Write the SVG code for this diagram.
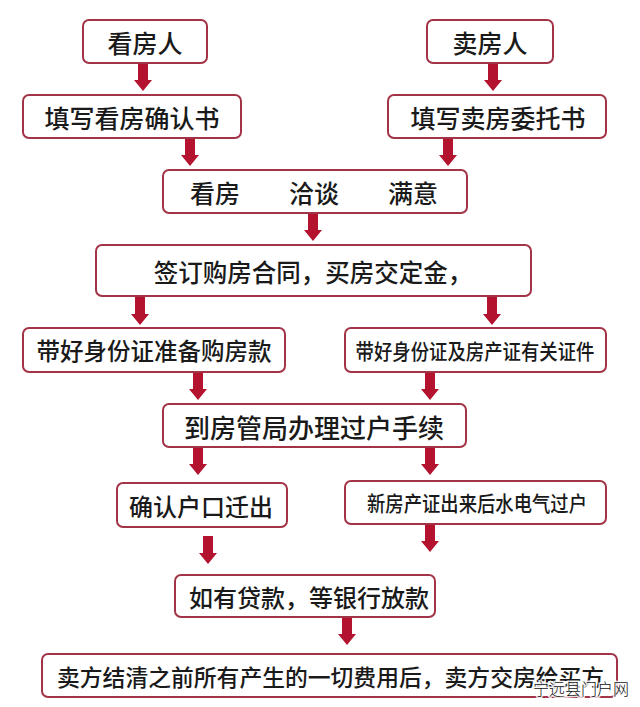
<svg xmlns="http://www.w3.org/2000/svg" width="640" height="707" viewBox="0 0 640 707">
<style>
.box{fill:#ffffff;stroke:#a33447;stroke-width:2}
.t{font-family:"Noto Sans CJK SC","Liberation Sans",sans-serif;font-weight:500;fill:#1a1a1a;text-anchor:middle;dominant-baseline:central}
.arr{fill:#b3132f}
.wm{font-family:"Noto Sans CJK SC",sans-serif;font-weight:300;fill:#111;font-size:16px;stroke:#ffffff;stroke-width:3;paint-order:stroke;stroke-opacity:0.85}
</style>
<defs>
<path id="ar" d="M-5,0 H5 V17 H9 L0,28 L-9,17 H-5 Z"/>
</defs>
<rect width="640" height="707" fill="#ffffff"/>
<g id="connectors">
<use href="#ar" class="arr" x="143" y="63"/>
<use href="#ar" class="arr" x="493" y="63"/>
<use href="#ar" class="arr" x="190" y="138"/>
<use href="#ar" class="arr" x="448" y="138"/>
<use href="#ar" class="arr" x="313" y="213"/>
<use href="#ar" class="arr" x="140" y="297"/>
<use href="#ar" class="arr" x="492" y="297"/>
<use href="#ar" class="arr" x="198" y="372"/>
<use href="#ar" class="arr" x="430" y="372"/>
<use href="#ar" class="arr" x="198" y="447"/>
<use href="#ar" class="arr" x="430" y="447"/>
<use href="#ar" class="arr" x="208" y="536"/>
<use href="#ar" class="arr" x="430" y="524"/>
<use href="#ar" class="arr" x="347" y="617"/>
</g>
<g id="n1"><rect class="box" x="83" y="20" width="124" height="43" rx="6"/><text class="t" x="145" y="42" font-size="25">看房人</text></g>
<g id="n2"><rect class="box" x="427" y="20" width="126" height="43" rx="6"/><text class="t" x="490" y="42" font-size="25">卖房人</text></g>
<g id="n3"><rect class="box" x="23" y="95" width="218" height="43" rx="6"/><text class="t" x="132" y="117" font-size="25">填写看房确认书</text></g>
<g id="n4"><rect class="box" x="388" y="95" width="218" height="43" rx="6"/><text class="t" x="498" y="117" font-size="25">填写卖房委托书</text></g>
<g id="n5"><rect class="box" x="163" y="170" width="304" height="43" rx="6"/><text class="t" x="215" y="192" font-size="25">看房</text><text class="t" x="314" y="192" font-size="25">洽谈</text><text class="t" x="413" y="192" font-size="25">满意</text></g>
<g id="n6"><rect class="box" x="96" y="245" width="435" height="51" rx="6"/><text class="t" x="313" y="271" font-size="24.5">签订购房合同，买房交定金，</text></g>
<g id="n7"><rect class="box" x="23" y="328" width="262" height="44" rx="6"/><text class="t" x="154" y="350" font-size="23.5">带好身份证准备购房款</text></g>
<g id="n8"><rect class="box" x="345" y="328" width="261" height="44" rx="6"/><text class="t" x="475" y="350" font-size="21" textLength="239" lengthAdjust="spacingAndGlyphs">带好身份证及房产证有关证件</text></g>
<g id="n9"><rect class="box" x="163" y="404" width="303" height="43" rx="6"/><text class="t" x="314" y="426" font-size="26">到房管局办理过户手续</text></g>
<g id="n10"><rect class="box" x="117" y="483" width="170" height="44" rx="6"/><text class="t" x="201" y="505" font-size="24">确认户口迁出</text></g>
<g id="n11"><rect class="box" x="345" y="481" width="261" height="43" rx="6"/><text class="t" x="477" y="502" font-size="21" textLength="220" lengthAdjust="spacingAndGlyphs">新房产证出来后水电气过户</text></g>
<g id="n12"><rect class="box" x="175" y="575" width="260" height="42" rx="6"/><text class="t" x="309" y="596" font-size="24">如有贷款，等银行放款</text></g>
<g id="n13"><rect class="box" x="42" y="654" width="575" height="43" rx="6"/><text class="t" x="57" y="676" font-size="22.8" style="text-anchor:start">卖方结清之前所有产生的一切费用后，卖方交房给买方</text></g>
<text class="wm" x="533" y="695">宁远县门户网</text>
</svg>
